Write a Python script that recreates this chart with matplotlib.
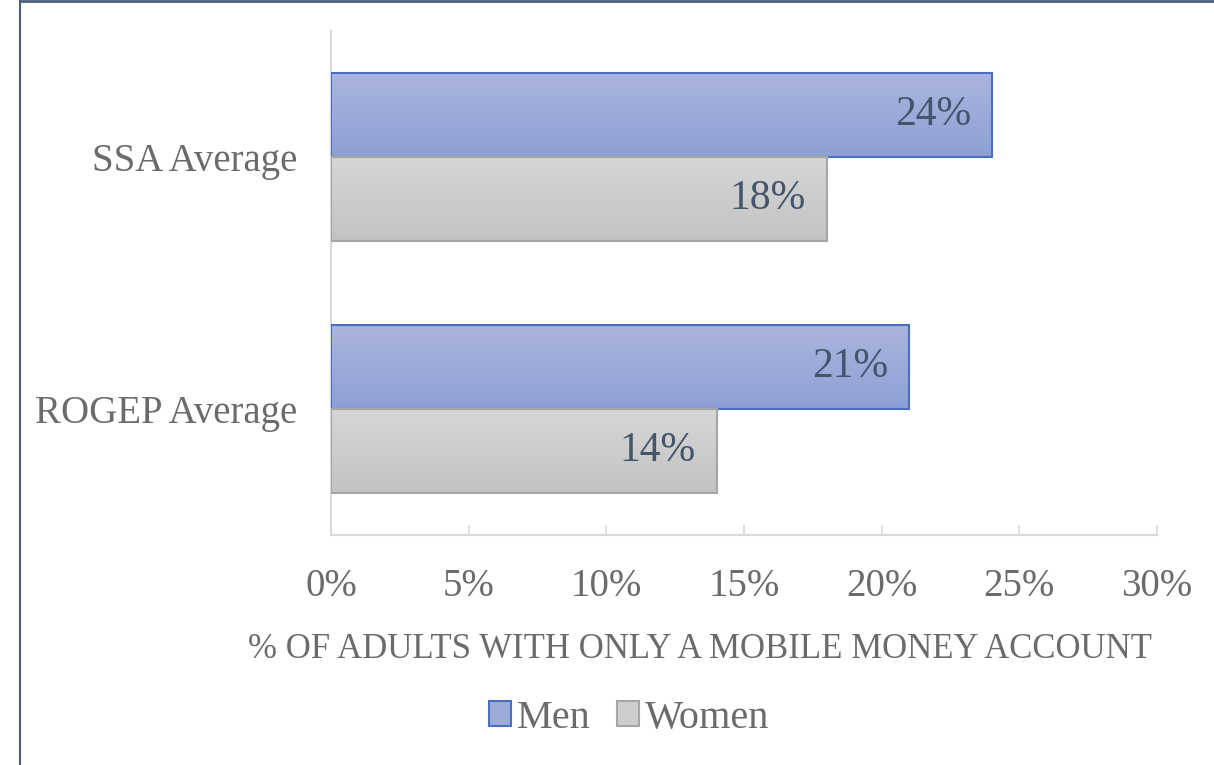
import matplotlib.pyplot as plt
import numpy as np
from matplotlib.patches import Patch
from matplotlib.lines import Line2D
from matplotlib.colors import LinearSegmentedColormap

# Data
categories = ['ROGEP Average', 'SSA Average']
men = [21, 24]
women = [14, 18]

plt.rcParams['font.family'] = ['Liberation Serif', 'DejaVu Serif']

fig = plt.figure(figsize=(12.14, 7.65), dpi=100)
ax = fig.add_axes([0.2727, 0.3007, 0.6804, 0.6588])

y = np.arange(len(categories))
h = 1 / 3


def gradient_bar(ax, ypos, val, top, bottom, edge):
    bars = ax.barh(ypos, val, height=h, color='none', edgecolor=edge, linewidth=1.5, zorder=3)
    cmap = LinearSegmentedColormap.from_list('g', [top, bottom])
    grad = np.linspace(0, 1, 64).reshape(-1, 1)
    for b in bars:
        x0, y0 = b.get_x(), b.get_y()
        im = ax.imshow(grad, cmap=cmap, aspect='auto', origin='upper',
                       extent=[x0, x0 + b.get_width(), y0, y0 + b.get_height()], zorder=2)
        im.set_clip_path(b)
    return bars


gradient_bar(ax, y + h / 2, men, '#aab5de', '#8ea0d4', '#4a6fc1')
gradient_bar(ax, y - h / 2, women, '#d6d6d6', '#c3c3c3', '#a6a6a6')

# data labels inside bar ends
for v, yy in zip(men, y + h / 2):
    ax.text(v - 0.75, yy, f'{v}%', ha='right', va='center', fontsize=30, color='#44546a', zorder=4)
for v, yy in zip(women, y - h / 2):
    ax.text(v - 0.75, yy, f'{v}%', ha='right', va='center', fontsize=30, color='#44546a', zorder=4)

ax.set_xlim(0, 30)
ax.set_ylim(-0.5, 1.5)
ax.set_xticks(range(0, 31, 5))
ax.set_xticklabels([f'{t}%' for t in range(0, 31, 5)])
ax.set_yticks(y)
ax.set_yticklabels(categories)
ax.tick_params(axis='x', direction='in', length=7, width=1.2, color='#d9d9d9',
               labelsize=28, labelcolor='#6b6b6b', pad=24)
ax.tick_params(axis='y', length=0, labelsize=28, labelcolor='#6b6b6b', pad=24)
for s in ['top', 'right']:
    ax.spines[s].set_visible(False)
for s in ['left', 'bottom']:
    ax.spines[s].set_color('#d9d9d9')
    ax.spines[s].set_linewidth(1.5)

ax.set_xlabel('% OF ADULTS WITH ONLY A MOBILE MONEY ACCOUNT', fontsize=25,
              color='#6b6b6b')
ax.xaxis.set_label_coords(0.447, -0.195)

handles = [Patch(facecolor='#9dabd9', edgecolor='#4a6fc1', linewidth=1.5, label='Men'),
           Patch(facecolor='#cdcdcd', edgecolor='#a6a6a6', linewidth=1.5, label='Women')]
leg = fig.legend(handles=handles, loc='center', bbox_to_anchor=(0.518, 0.061), ncol=2,
                 frameon=False, fontsize=29, handlelength=0.55, handleheight=0.55,
                 handletextpad=0.15, columnspacing=0.65)
for t in leg.get_texts():
    t.set_color('#6b6b6b')

# border lines of the chart frame
fig.add_artist(Line2D([20 / 1214, 20 / 1214], [0, 1], transform=fig.transFigure,
                      color='#4f5f7a', linewidth=1.5))
fig.add_artist(Line2D([20 / 1214, 1], [0.999, 0.999], transform=fig.transFigure,
                      color='#4f5f7a', linewidth=2))

fig.savefig('out.png', dpi=100)
